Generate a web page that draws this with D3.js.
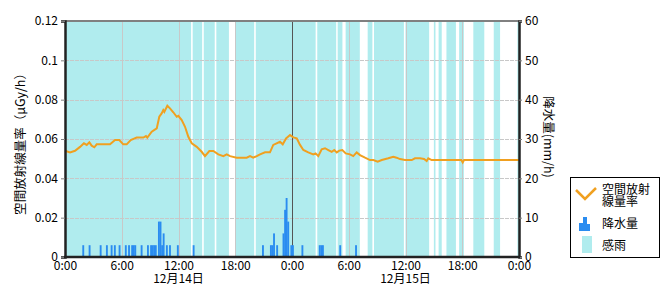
<!DOCTYPE html>
<html>
<head>
<meta charset="utf-8">
<script src="https://cdn.jsdelivr.net/npm/d3@7"></script>
<style>
	body { margin: 0; background: #fff; }
	svg text { font-family: "Noto Sans CJK JP", sans-serif; fill: #000; }
</style>
</head>
<body>
<script>
// ---- data (hours counted from 12/14 0:00) ----
var xTickHours = [0, 6, 12, 18, 24, 30, 36, 42, 48];
var xTickLabels = ["0:00", "6:00", "12:00", "18:00", "0:00", "6:00", "12:00", "18:00", "0:00"];
var dayLabels = ["12月14日", "12月15日"];
var dayHours = [12, 36];
var doseTicks = [0, 0.02, 0.04, 0.06, 0.08, 0.1, 0.12];
var doseTickLabels = ["0", "0.02", "0.04", "0.06", "0.08", "0.1", "0.12"];
var rainTicks = [0, 10, 20, 30, 40, 50, 60];

// air dose rate (uGy/h)
var doseHours = [0, 0.53, 1.06, 1.59, 2.0, 2.3, 2.57, 2.82, 3.1, 3.35, 4.76, 5.29, 5.74, 6.16, 6.52, 6.95,
	7.58, 8.28, 8.56, 8.7, 9.17, 9.7, 9.97, 10.22, 10.39, 10.5, 10.82, 11.1, 11.45, 11.81, 11.98, 12.34,
	12.69, 13.04, 13.4, 13.93, 14.45, 14.8, 15.26, 15.68, 16.21, 16.74, 17.1, 17.45, 18.15, 19.21, 19.56,
	19.9, 20.27, 20.62, 21.15, 21.67, 22.02, 22.73, 23.02, 23.37, 23.79, 24.14, 24.5, 24.85, 25.2, 25.72,
	26.25, 26.5, 26.78, 27.14, 27.49, 27.84, 28.2, 28.47, 28.73, 29.0, 29.32, 29.68, 30.13, 30.48, 30.84,
	31.19, 31.72, 32.25, 32.6, 33.06, 33.49, 34.18, 34.71, 35.06, 35.42, 35.95, 36.66, 37.0, 37.53, 37.96,
	38.24, 38.41, 38.77, 41.9, 42.05, 42.19, 48];
var doseValues = [0.054, 0.0532, 0.054, 0.056, 0.0578, 0.057, 0.0583, 0.0566, 0.0558, 0.0573, 0.0573, 0.0595, 0.0595, 0.0573, 0.0573, 0.0595,
	0.0607, 0.0607, 0.0615, 0.0607, 0.0637, 0.0654, 0.0713, 0.073, 0.0747, 0.0738, 0.0769, 0.0756, 0.0736, 0.0713, 0.0718, 0.0696,
	0.0662, 0.0611, 0.0578, 0.056, 0.0535, 0.0513, 0.0539, 0.0539, 0.0522, 0.0513, 0.0522, 0.0513, 0.0505, 0.0505, 0.0513,
	0.0505, 0.0513, 0.0522, 0.0532, 0.0532, 0.057, 0.0586, 0.0573, 0.0603, 0.062, 0.0608, 0.0603, 0.057, 0.0544, 0.0532,
	0.0522, 0.0527, 0.0513, 0.0548, 0.0553, 0.0544, 0.0535, 0.0544, 0.0532, 0.0541, 0.0544, 0.0527, 0.0522, 0.0513, 0.0532,
	0.0518, 0.0505, 0.0493, 0.0493, 0.0485, 0.0493, 0.0502, 0.051, 0.0505, 0.0498, 0.0493, 0.0493, 0.0502, 0.0502, 0.0498,
	0.0488, 0.0502, 0.0493, 0.0493, 0.0481, 0.0493, 0.0493];

// rainfall, 10 minute bins (start hour, mm/h)
var rainHours = [1.83, 2.5, 3.67, 4.33, 4.83, 5.17, 5.67, 6.33, 6.67, 7.0, 7.17, 7.33, 8.0, 8.67, 9.0, 9.17, 9.33, 9.5,
	9.83, 10.0, 10.17, 10.33, 10.67, 11.0, 11.83, 13.5,
	20.83, 21.67, 21.83, 22.0, 22.33, 23.0, 23.17, 23.33, 23.5, 23.83, 24.0, 25.0, 26.83, 27.0, 27.17, 29.0, 30.67];
var rainValues = [3, 3, 3, 3, 3, 3, 3, 3, 3, 3, 3, 3, 3, 3, 3, 3, 3, 3,
	9, 9, 3, 6, 3, 3, 3, 3,
	3, 3, 3, 6, 3, 6, 12, 15, 9, 3, 3, 3, 3, 3, 3, 3, 3];

// rain sensed periods (start hour, end hour)
var senseStart = [0, 13.5, 14.67, 16.0, 18.0, 20.17, 26.67, 28.83, 29.67, 32.0, 32.67, 36.0, 39.0, 39.5, 40.33, 41.67, 43.17, 45.33, 47.83];
var senseEnd = [13.33, 14.5, 15.83, 17.33, 20.0, 26.5, 28.67, 29.33, 31.17, 32.5, 35.83, 38.5, 39.17, 39.83, 41.33, 42.17, 44.33, 46.0, 48];

// ---- layout ----
var width = 670, height = 300;
var plotL = 65, plotR = 519, plotT = 21, plotB = 257;

var svg = d3.select("body").append("svg")
	.attr("width", width)
	.attr("height", height);

var x = d3.scaleLinear().domain([0, 48]).range([plotL, plotR]);
var yDose = d3.scaleLinear().domain([0, 0.12]).range([plotB, plotT]);
var yRain = d3.scaleLinear().domain([0, 60]).range([plotB, plotT]);

// rain sensed bands
svg.append("g").selectAll("rect")
	.data(senseStart)
	.enter().append("rect")
	.attr("x", function(d) { return x(d); })
	.attr("y", plotT)
	.attr("width", function(d, i) { return x(senseEnd[i]) - x(d); })
	.attr("height", plotB - plotT)
	.attr("fill", "#b0ecee");

// horizontal grid
svg.append("g").selectAll("line")
	.data(doseTicks.slice(1, -1))
	.enter().append("line")
	.attr("x1", plotL).attr("x2", plotR)
	.attr("y1", function(d) { return Math.round(yDose(d)) + 0.5; })
	.attr("y2", function(d) { return Math.round(yDose(d)) + 0.5; })
	.attr("stroke", "#c8c8c8")
	.attr("stroke-dasharray", "4,1");

// vertical grid
svg.append("g").selectAll("line")
	.data(xTickHours.slice(1, -1))
	.enter().append("line")
	.attr("x1", function(d) { return Math.round(x(d)) + 0.5; })
	.attr("x2", function(d) { return Math.round(x(d)) + 0.5; })
	.attr("y1", plotT).attr("y2", plotB)
	.attr("stroke", function(d) { return d == 24 ? "#555" : "#c8c8c8"; });

// rain bars
var binW = x(1 / 6) - x(0);
svg.append("g").selectAll("rect")
	.data(rainHours)
	.enter().append("rect")
	.attr("x", function(d) { return x(d); })
	.attr("y", function(d, i) { return yRain(rainValues[i]); })
	.attr("width", binW + 0.3)
	.attr("height", function(d, i) { return plotB - yRain(rainValues[i]); })
	.attr("fill", "#2a8cf0");

// dose line
var line = d3.line()
	.x(function(d) { return x(d); })
	.y(function(d, i) { return yDose(doseValues[i]); });

svg.append("path")
	.datum(doseHours)
	.attr("d", line)
	.attr("fill", "none")
	.attr("stroke", "#f0a020")
	.attr("stroke-width", 2);

// frame
svg.append("line").attr("x1", plotL).attr("x2", plotR).attr("y1", plotT).attr("y2", plotT)
	.attr("stroke", "#808080").attr("stroke-width", 2);

var leftAxis = d3.axisLeft(yDose).tickValues(doseTicks)
	.tickFormat(function(d, i) { return doseTickLabels[i]; })
	.tickSize(4).tickPadding(3);
var gl = svg.append("g").attr("transform", "translate(" + plotL + ",0)").call(leftAxis);

var rightAxis = d3.axisRight(yRain).tickValues(rainTicks).tickSize(3).tickPadding(3);
var gr = svg.append("g").attr("transform", "translate(" + plotR + ",0)").call(rightAxis);

var bottomAxis = d3.axisBottom(x).tickValues(xTickHours)
	.tickFormat(function(d, i) { return xTickLabels[i]; })
	.tickSize(0).tickPadding(4);
var gb = svg.append("g").attr("transform", "translate(0," + plotB + ")").call(bottomAxis);

[gl, gr, gb].forEach(function(g) {
	g.select(".domain").attr("stroke", "#222").attr("stroke-width", 2.5);
	g.selectAll(".tick line").attr("stroke", "#808080");
	g.selectAll("text").style("font-size", "12px");
});
gb.select(".domain").attr("d", "M" + (plotL - 1) + ",0H" + (plotR + 1));

// date labels
svg.append("g").selectAll("text")
	.data(dayLabels)
	.enter().append("text")
	.attr("x", function(d, i) { return x(dayHours[i]); })
	.attr("y", 283)
	.attr("text-anchor", "middle")
	.style("font-size", "12px")
	.text(function(d) { return d; });

// axis titles
svg.append("text")
	.attr("transform", "translate(25,141) rotate(-90)")
	.attr("text-anchor", "middle")
	.style("font-size", "12.5px")
	.text("空間放射線量率（μGy/h）");

svg.append("text")
	.attr("transform", "translate(544,137) rotate(90)")
	.attr("text-anchor", "middle")
	.style("font-size", "12.5px")
	.text("降水量(mm/h)");

// legend
var lg = svg.append("g").attr("transform", "translate(570,177)");
lg.append("rect").attr("x", 0.5).attr("y", 0.5).attr("width", 89).attr("height", 80)
	.attr("fill", "#fff").attr("stroke", "#000");
lg.append("path").attr("d", "M6,13L15,22L26,11").attr("fill", "none")
	.attr("stroke", "#f0a020").attr("stroke-width", 2.5);
lg.append("text").attr("x", 32).attr("y", 17).style("font-size", "12px").text("空間放射");
lg.append("text").attr("x", 32).attr("y", 29).style("font-size", "12px").text("線量率");
lg.append("path").attr("d", "M9,54V46H13V40H17V47H20V54Z").attr("fill", "#2a8cf0");
lg.append("text").attr("x", 32).attr("y", 51).style("font-size", "12px").text("降水量");
lg.append("rect").attr("x", 12).attr("y", 59).attr("width", 10).attr("height", 17).attr("fill", "#b0ecee");
lg.append("text").attr("x", 32).attr("y", 73).style("font-size", "12px").text("感雨");
</script>
</body>
</html>
